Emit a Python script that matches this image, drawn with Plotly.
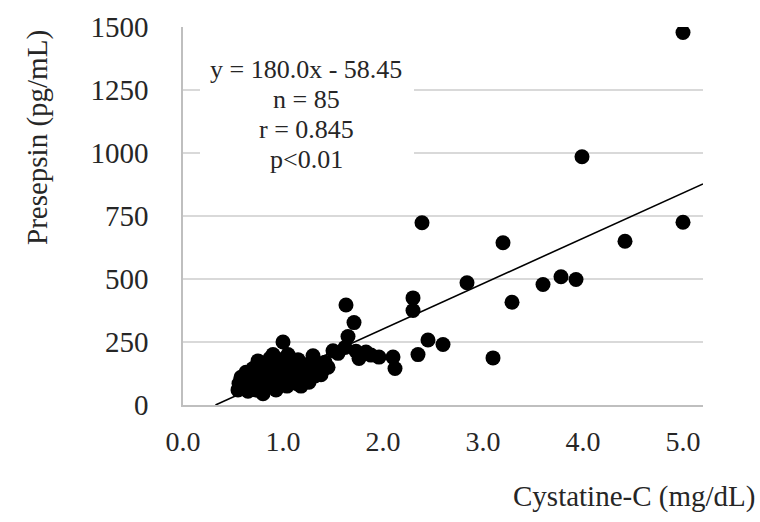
import plotly.graph_objects as go

# ---- data ----
cystatin_c = [
    # outside the dense cluster
    5.00, 3.99, 2.39, 5.00, 3.20, 4.42, 2.84, 3.60, 3.78, 3.93,
    3.29, 2.30, 2.30, 2.45, 2.60, 2.35, 3.10, 2.12, 2.10, 1.96,
    1.63, 1.71, 1.65, 1.62, 1.55, 1.73, 1.83, 1.76, 1.88, 1.50,
    # dense cluster
    0.55, 0.56, 0.58, 0.60, 0.62, 0.63, 0.65, 0.66, 0.68, 0.70,
    0.71, 0.73, 0.75, 0.76, 0.78, 0.80, 0.80, 0.82, 0.84, 0.85,
    0.88, 0.90, 0.90, 0.92, 0.93, 0.95, 0.97, 0.98, 1.00, 1.00,
    1.02, 1.04, 1.05, 1.07, 1.08, 1.10, 1.12, 1.14, 1.15, 1.17,
    1.20, 1.22, 1.24, 1.26, 1.28, 1.30, 1.32, 1.34, 1.36, 1.38,
    1.40, 1.42, 1.45, 1.18, 0.87,
]
presepsin = [
    1478, 985, 723, 725, 644, 650, 485, 478, 509, 498,
    408, 425, 375, 258, 240, 200, 187, 145, 190, 190,
    397, 327, 272, 228, 205, 213, 210, 185, 198, 215,
    60, 85, 110, 70, 95, 130, 55, 115, 80, 145,
    100, 60, 175, 125, 90, 45, 150, 110, 70, 135,
    95, 200, 160, 120, 60, 145, 90, 180, 250, 120,
    155, 75, 200, 135, 100, 165, 120, 85, 180, 140,
    105, 160, 125, 90, 145, 195, 115, 135, 160, 120,
    140, 170, 150, 75, 185,
]

slope = 180.0
intercept = -58.45
x_axis_max = 5.2
x_ticks = [0, 1, 2, 3, 4, 5]
y_ticks = [0, 250, 500, 750, 1000, 1250, 1500]

stats_lines = ["y = 180.0x - 58.45", "n = 85", "r = 0.845", "p<0.01"]
x_title = "Cystatine-C (mg/dL)"
y_title = "Presepsin (pg/mL)"

# ---- layout geometry (pixels) ----
W, H = 760, 522
L, R, T, B = 183, 57, 27, 117
PW, PH = W - L - R, H - T - B


def px(xp):
    return (xp - L) / PW


def py(yp):
    return (H - B - yp) / PH


FONT = "Liberation Serif"
TXT = "#262626"

fig = go.Figure()

# regression line, from where it meets y = 0 to the right edge of the axis
x0 = -intercept / slope
line_x = [x0, x_axis_max]
line_y = [slope * v + intercept for v in line_x]
fig.add_trace(go.Scatter(x=line_x, y=line_y, mode="lines",
                         line=dict(color="black", width=1.6),
                         hoverinfo="skip", showlegend=False))

fig.add_trace(go.Scatter(x=cystatin_c, y=presepsin, mode="markers",
                         marker=dict(color="black", size=15),
                         showlegend=False))

fig.update_layout(
    width=W, height=H,
    margin=dict(l=L, r=R, t=T, b=B),
    paper_bgcolor="white", plot_bgcolor="white",
    font=dict(family=FONT, color=TXT),
    xaxis=dict(range=[0, x_axis_max], tickvals=x_ticks, tickformat=".1f",
               showgrid=False, zeroline=False, showline=True,
               linecolor="#bfbfbf", linewidth=1.5, ticks="",
               tickfont=dict(size=28, family=FONT, color=TXT),
               ticklabelstandoff=11),
    yaxis=dict(range=[0, 1500], tickvals=y_ticks,
               showgrid=True, gridcolor="#d9d9d9", gridwidth=1.5,
               zeroline=False, showline=True, linecolor="#bfbfbf",
               linewidth=1.5, ticks="",
               tickfont=dict(size=29, family=FONT, color=TXT),
               ticklabelstandoff=27),
)

# white box behind the statistics text
fig.add_shape(type="rect", xref="paper", yref="paper",
              x0=px(200), x1=px(414), y0=py(178), y1=py(48),
              fillcolor="white", line=dict(width=0), layer="above")

for i, t in enumerate(stats_lines):
    fig.add_annotation(text=t, xref="paper", yref="paper",
                       x=px(306), y=py(70 + 29.7 * i),
                       xanchor="center", yanchor="middle", showarrow=False,
                       font=dict(size=26, family=FONT, color=TXT))

fig.add_annotation(text=x_title, xref="paper", yref="paper",
                   x=px(757), y=py(497), xanchor="right", yanchor="middle",
                   showarrow=False, font=dict(size=29, family=FONT, color=TXT))
fig.add_annotation(text=y_title, xref="paper", yref="paper",
                   x=px(37), y=py(138), xanchor="center", yanchor="middle",
                   textangle=-90, showarrow=False,
                   font=dict(size=29, family=FONT, color=TXT))

fig.write_html("out.html")
